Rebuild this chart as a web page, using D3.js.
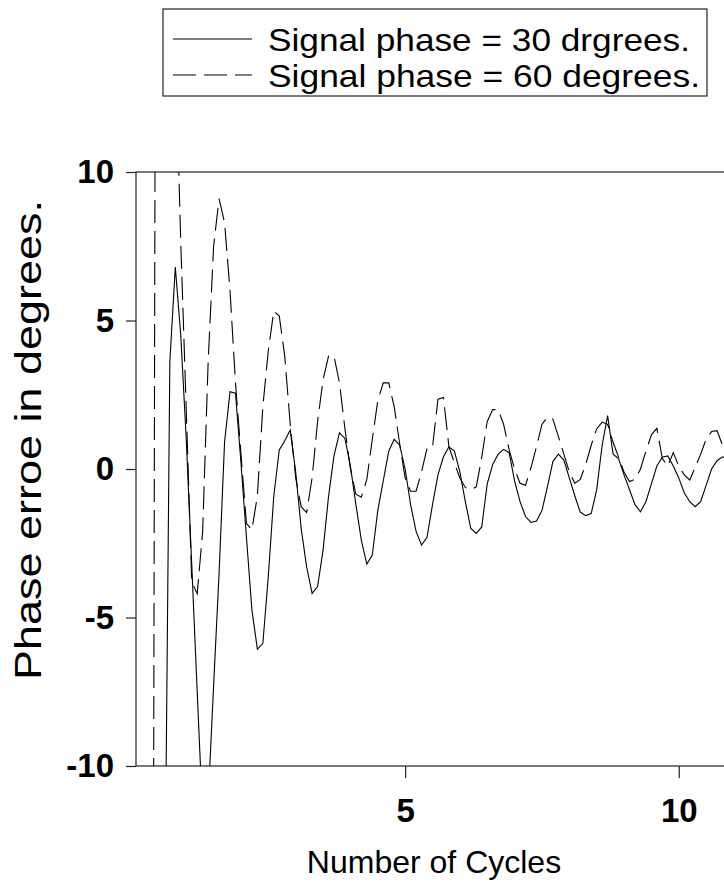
<!DOCTYPE html>
<html><head><meta charset="utf-8">
<script src="https://cdn.jsdelivr.net/npm/d3@7"></script>
<style>body{margin:0;background:#fff} svg{display:block}</style>
</head><body>
<script>
// x values: number of cycles (samples every 0.1 cycle)
const cycles = [0.1,0.2,0.3,0.4,0.5,0.6,0.7,0.8,0.9,1.0,
 1.1,1.2,1.3,1.4,1.5,1.6,1.7,1.8,1.9,2.0,
 2.1,2.2,2.3,2.4,2.5,2.6,2.7,2.8,2.9,3.0,
 3.1,3.2,3.3,3.4,3.5,3.6,3.7,3.8,3.9,4.0,
 4.1,4.2,4.3,4.4,4.5,4.6,4.7,4.8,4.9,5.0,
 5.1,5.2,5.3,5.4,5.5,5.6,5.7,5.8,5.9,6.0,
 6.1,6.2,6.3,6.4,6.5,6.6,6.7,6.8,6.9,7.0,
 7.1,7.2,7.3,7.4,7.5,7.6,7.7,7.8,7.9,8.0,
 8.1,8.2,8.3,8.4,8.5,8.6,8.7,8.8,8.9,9.0,
 9.1,9.2,9.3,9.4,9.5,9.6,9.7,9.8,9.9,10.0,
 10.1,10.2,10.3,10.4,10.5,10.6,10.7,10.8,10.9];

// Signal phase = 30 degrees (solid)
const phase30 = [-60,-52,-44,-35,-26,-16.7,3.6,6.8,4.5,1.0,
 -3.2,-7.5,-11.7,-11.2,-7.3,-3.5,0.9,2.6,2.55,0.2,
 -2.3,-4.75,-6.07,-5.87,-3.6,-0.9,0.64,0.95,1.31,-0.1,
 -2.0,-3.3,-4.19,-3.96,-2.73,-0.93,0.45,1.22,1.03,0.1,
 -1.2,-2.4,-3.2,-2.9,-1.4,-0.4,0.6,1.0,0.8,0.0,
 -1.2,-2.1,-2.56,-2.3,-1.2,-0.2,0.41,0.75,0.6,-0.1,
 -1.1,-2.0,-2.17,-1.95,-0.5,0.15,0.5,0.66,0.55,-0.4,
 -1.1,-1.6,-1.8,-1.75,-1.4,-0.6,0.25,0.5,0.3,-0.3,
 -0.9,-1.45,-1.57,-1.5,-0.7,0.8,1.8,0.5,0.35,-0.2,
 -0.7,-1.2,-1.44,-1.1,-0.5,0.1,0.4,0.44,0.1,-0.3,
 -0.8,-1.1,-1.27,-1.1,-0.55,0.0,0.28,0.41,0.3];

// Signal phase = 60 degrees (dashed)
const phase60 = [-70,-55,-40,-14,70,45,26,14.2,7.6,2.0,
 -3.8,-4.2,-2.1,3.6,7.5,9.1,8.3,6.0,2.9,0.5,
 -1.83,-2.05,-0.9,2.1,4.0,5.32,5.15,3.8,1.5,-0.3,
 -1.27,-1.47,-0.3,1.6,3.0,3.8,3.8,2.9,1.35,0.0,
 -0.85,-0.95,-0.35,1.0,2.3,2.9,2.9,2.1,0.85,-0.3,
 -0.75,-0.75,-0.1,0.7,0.73,2.35,2.41,0.75,0.2,-0.3,
 -0.62,-0.7,-0.6,0.4,1.6,2.0,2.0,1.5,0.65,0.0,
 -0.48,-0.55,0.05,0.75,1.5,1.75,1.68,1.1,0.5,-0.1,
 -0.48,-0.35,0.15,0.8,1.35,1.58,1.5,0.9,0.4,-0.1,
 -0.42,-0.35,0.0,0.6,1.15,1.37,0.35,0.1,0.55,0.1,
 -0.2,-0.37,0.05,0.5,1.0,1.26,1.29,0.8,0.3];

const yTicks = [-10,-5,0,5,10];
const xTicks = [5,10];
const seriesNames = ["Signal phase = 30 drgrees.", "Signal phase = 60 degrees."];

const W = 724, H = 884;
const FONT = "'Liberation Sans', Arial, Helvetica, sans-serif";
const svg = d3.select("body").append("svg").attr("width", W).attr("height", H)
  .style("font-family", FONT);

const x = d3.scaleLinear().domain([0.1, 10.9]).range([137, 728]);
const y = d3.scaleLinear().domain([-10, 10]).range([766, 172]);

svg.append("defs").append("clipPath").attr("id", "plotclip")
  .append("rect").attr("x", 136).attr("y", 172).attr("width", 600).attr("height", 594);

// frame
svg.append("rect").attr("x", 136).attr("y", 172).attr("width", 600).attr("height", 594)
  .attr("fill", "none").attr("stroke", "#222").attr("stroke-width", 1.2);

// axes
const fmt = d => String(d);
const yAxis = svg.append("g").attr("transform", "translate(136,0)")
  .call(d3.axisLeft(y).tickValues(yTicks).tickSize(10).tickPadding(12).tickFormat(fmt));
const xAxis = svg.append("g").attr("transform", "translate(0,766)")
  .call(d3.axisBottom(x).tickValues(xTicks).tickSize(12).tickPadding(21).tickFormat(fmt));
[yAxis, xAxis].forEach(g => {
  g.select(".domain").remove();
  g.selectAll("line").attr("stroke", "#222").attr("stroke-width", 1.2);
  g.selectAll("text").attr("fill", "#000").style("font-size", "33px")
    .style("font-weight", "bold").style("font-family", FONT);
});

// lines
const data = cycles.map((c, i) => ({c, a: phase30[i], b: phase60[i]}));
const g = svg.append("g").attr("clip-path", "url(#plotclip)");
const lineA = d3.line().x(d => x(d.c)).y(d => y(d.a));
const lineB = d3.line().x(d => x(d.c)).y(d => y(d.b));
g.append("path").datum(data).attr("d", lineA).attr("fill", "none")
  .attr("stroke", "#000").attr("stroke-width", 1.1);
g.append("path").datum(data).attr("d", lineB).attr("fill", "none")
  .attr("stroke", "#000").attr("stroke-width", 1.1).attr("stroke-dasharray", "23,8");

// axis titles
svg.append("text").attr("x", 434).attr("y", 873).attr("text-anchor", "middle")
  .style("font-size", "32px").text("Number of Cycles");
svg.append("text").attr("transform", "translate(41,440) rotate(-90)")
  .attr("text-anchor", "middle").style("font-size", "36px")
  .attr("textLength", 480).attr("lengthAdjust", "spacingAndGlyphs")
  .text("Phase erroe in degrees.");

// legend
const lg = svg.append("g");
lg.append("rect").attr("x", 163).attr("y", 9).attr("width", 544).attr("height", 87)
  .attr("fill", "#fff").attr("stroke", "#222").attr("stroke-width", 1.2);
const dashes = [null, "23,8"];
const legendY = [39, 75];
const legendLen = [422, 432];
seriesNames.forEach((name, i) => {
  const yy = legendY[i];
  lg.append("line").attr("x1", 173).attr("x2", 252).attr("y1", yy).attr("y2", yy)
    .attr("stroke", "#000").attr("stroke-width", 1.1)
    .attr("stroke-dasharray", dashes[i]);
  lg.append("text").attr("x", 268).attr("y", yy + 12).style("font-size", "32px")
    .attr("textLength", legendLen[i]).attr("lengthAdjust", "spacingAndGlyphs")
    .text(name);
});
</script>
</body></html>
